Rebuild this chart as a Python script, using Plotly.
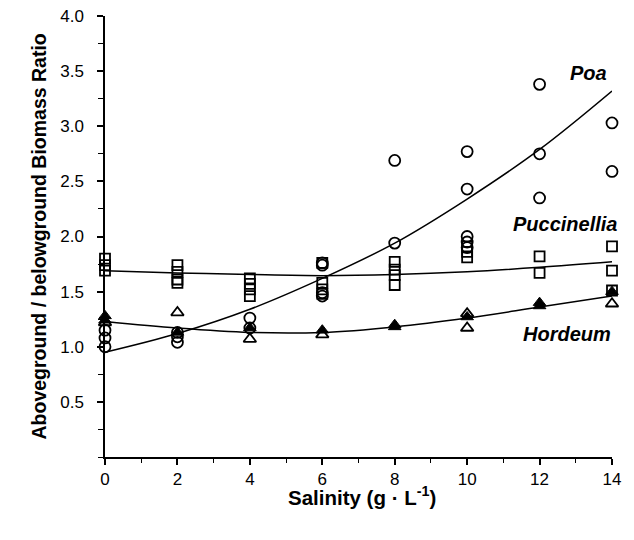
import plotly.graph_objects as go

# ---- data ----
salinity_ticks = [0, 2, 4, 6, 8, 10, 12, 14]
y_ticks = [0.5, 1.0, 1.5, 2.0, 2.5, 3.0, 3.5, 4.0]

poa_x = [0, 0, 0, 2, 2, 2, 4, 4, 6, 6, 6, 6, 8, 8, 10, 10, 10, 10, 10, 12, 12, 12, 14, 14]
poa_y = [1.00, 1.08, 1.15, 1.04, 1.09, 1.13, 1.26, 1.17, 1.76, 1.74, 1.49, 1.46,
         2.69, 1.94, 2.77, 2.43, 2.00, 1.95, 1.90, 3.38, 2.75, 2.35, 3.03, 2.59]

pucc_x = [0, 0, 0, 2, 2, 2, 2, 4, 4, 4, 4, 6, 6, 6, 6, 8, 8, 8, 8, 10, 10, 10, 12, 12, 14, 14, 14]
pucc_y = [1.80, 1.74, 1.69, 1.74, 1.68, 1.61, 1.58, 1.62, 1.57, 1.52, 1.46,
          1.76, 1.58, 1.52, 1.48, 1.77, 1.70, 1.65, 1.56, 1.91, 1.86, 1.81,
          1.82, 1.67, 1.91, 1.69, 1.51]

hord_open_x = [0, 2, 4, 6, 10, 10, 14]
hord_open_y = [1.22, 1.31, 1.07, 1.11, 1.30, 1.17, 1.39]
hord_fill_x = [0, 0, 2, 4, 6, 8, 8, 10, 12, 12, 14]
hord_fill_y = [1.28, 1.24, 1.13, 1.17, 1.15, 1.20, 1.18, 1.27, 1.40, 1.37, 1.50]

fit_x = [0, 2, 4, 6, 8, 10, 12, 14]
poa_fit = [0.95, 1.12, 1.34, 1.62, 1.94, 2.34, 2.79, 3.32]
pucc_fit = [1.69, 1.67, 1.655, 1.645, 1.655, 1.68, 1.72, 1.77]
hord_fit = [1.23, 1.17, 1.13, 1.13, 1.18, 1.26, 1.36, 1.46]

fig = go.Figure()

line_style = dict(color="black", width=1.5, shape="spline", smoothing=1.0)
for yy in (poa_fit, pucc_fit, hord_fit):
    fig.add_trace(go.Scatter(x=fit_x, y=yy, mode="lines", line=line_style,
                             showlegend=False, hoverinfo="skip", cliponaxis=False))

fig.add_trace(go.Scatter(x=poa_x, y=poa_y, mode="markers", showlegend=False, cliponaxis=False,
                         marker=dict(symbol="circle-open", size=11, color="black",
                                     line=dict(width=1.8, color="black"))))
fig.add_trace(go.Scatter(x=pucc_x, y=pucc_y, mode="markers", showlegend=False, cliponaxis=False,
                         marker=dict(symbol="square-open", size=10, color="black",
                                     line=dict(width=1.8, color="black"))))
fig.add_trace(go.Scatter(x=hord_open_x, y=hord_open_y, mode="markers", showlegend=False, cliponaxis=False,
                         marker=dict(symbol="triangle-up-open", size=11, color="black",
                                     line=dict(width=1.8, color="black"))))
fig.add_trace(go.Scatter(x=hord_fill_x, y=hord_fill_y, mode="markers", showlegend=False, cliponaxis=False,
                         marker=dict(symbol="triangle-up", size=11, color="black",
                                     line=dict(width=1, color="black"))))

tick_font = dict(family="Liberation Sans, Arial, sans-serif", size=17, color="black")
fig.update_xaxes(range=[0, 14], tickvals=salinity_ticks, ticktext=[str(v) for v in salinity_ticks],
                 automargin=False, ticklabeloverflow="allow",
                 showline=True, linecolor="black", linewidth=1.5, ticks="outside", ticklen=6,
                 tickwidth=1.5, tickcolor="black", showgrid=False, zeroline=False, tickfont=tick_font,
                 minor=dict(dtick=1, tick0=0, ticks="outside", ticklen=4, tickwidth=1.2, tickcolor="black"))
fig.update_yaxes(range=[0, 4], tickvals=y_ticks, ticktext=[f"{v:.1f}" for v in y_ticks],
                 automargin=False, ticklabelstandoff=10, ticklabeloverflow="allow",
                 showline=True, linecolor="black", linewidth=1.5, ticks="outside", ticklen=6,
                 tickwidth=1.5, tickcolor="black", showgrid=False, zeroline=False, tickfont=tick_font,
                 minor=dict(dtick=0.25, tick0=0, ticks="outside", ticklen=5, tickwidth=1.2, tickcolor="black"))

lab_font = dict(family="Liberation Sans, Arial, sans-serif", size=20, color="black", weight="bold", style="italic")
fig.add_annotation(x=13.34, y=3.48, xref="x", yref="y", text="Poa", showarrow=False, font=lab_font)
fig.add_annotation(x=12.72, y=2.11, xref="x", yref="y", text="Puccinellia", showarrow=False, font=lab_font)
fig.add_annotation(x=12.76, y=1.12, xref="x", yref="y", text="Hordeum", showarrow=False, font=lab_font)

fig.add_annotation(x=0.5, y=0, xref="paper", yref="paper", xshift=3, yshift=-39, yanchor="middle",
                   text="Salinity (g · L<sup>-1</sup>)", showarrow=False,
                   font=dict(family="Liberation Sans, Arial, sans-serif", size=20.5, color="black", weight="bold"))
fig.add_annotation(x=0, y=0.5, xref="paper", yref="paper", xshift=-80, textangle=-90,
                   text="Aboveground / belowground Biomass Ratio", showarrow=False,
                   font=dict(family="Liberation Sans, Arial, sans-serif", size=19.5, color="black", weight="bold"))

# the page body adds an 8px offset, so the figure is sized to fit the window from there
fig.update_layout(width=626, height=532, margin=dict(l=97, r=22, t=8, b=83),
                  plot_bgcolor="white", paper_bgcolor="white")
fig.write_html("out.html")
